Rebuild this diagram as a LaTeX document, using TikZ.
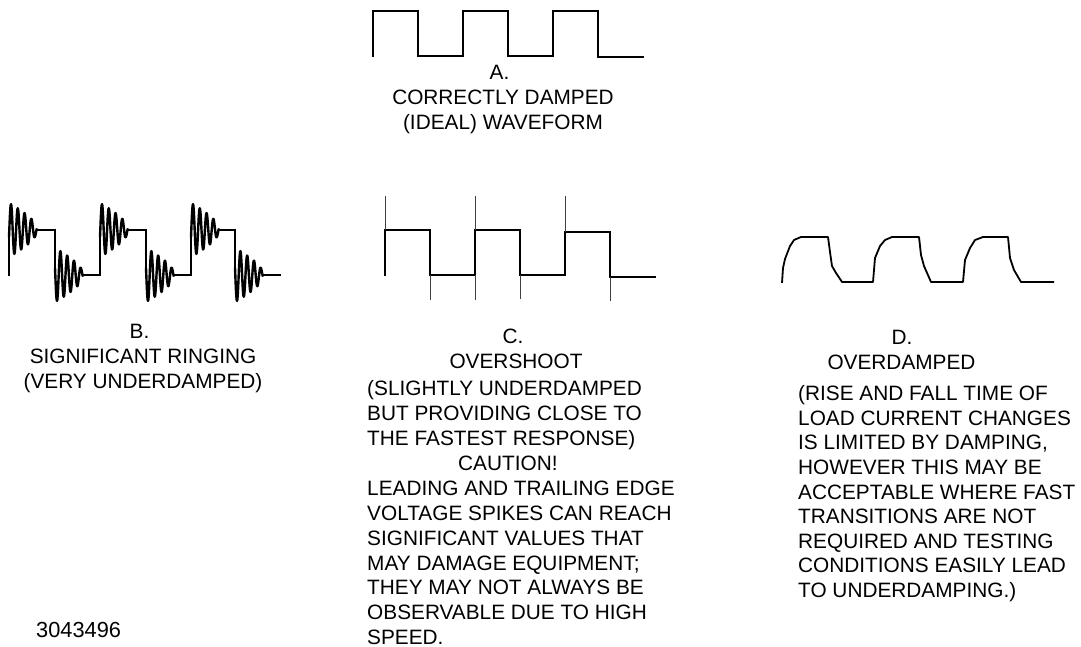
\documentclass[tikz,border=0pt]{standalone}
\usepackage{fontspec}
\setmainfont{Liberation Sans}
\newcommand{\ringf}[2]{#1-#2*27*pow(1-\x/29,0.6)*cos(360*(\x-2)/6.8)}
\tikzset{
 wave/.style={line width=2pt,line join=miter,black},
 ringwave/.style={line width=2.4pt,line join=round,black},
 damped/.style={line width=1.8pt,line join=round,black},
 ringplot/.style={domain=0:28,samples=110},
 spike/.style={line width=0.9pt,black!75},
 lbl/.style={inner sep=0pt,font=\fontsize{20.8}{24.9}\selectfont,anchor=north west,align=left},
 lbld/.style={lbl,font=\fontsize{20.8}{24.6}\selectfont},
 clbl/.style={inner sep=0pt,font=\fontsize{20.8}{24.9}\selectfont,align=center,anchor=north}
}
\begin{document}
\begin{tikzpicture}[x=1pt,y=-1pt]
\useasboundingbox (0,0) rectangle (1081,646);
% A
\draw[wave] (373,57) -- (373,11) -- (418,11) -- (418,56) -- (463,56) -- (463,11) -- (508,11) -- (508,56) -- (553,56) -- (553,11) -- (598,11) -- (598,57) -- (644,57);
\node[clbl] (ta1) at (499.5,64.5) {A.};
\node[clbl] (ta2) at (503,89.4) {CORRECTLY DAMPED\\(IDEAL) WAVEFORM};
% B
\draw[wave] (9,276) -- (9,230) (37,230) -- (55,230) -- (55,275) (83,275) -- (100,275) -- (100,230) (128,230) -- (146,230) -- (146,275) (174,275) -- (191,275) -- (191,230) (219,230) -- (235,230) -- (235,275) (263,275) -- (281,275);
\foreach \rx/\rl/\rs in {9/230/1,55/275/-1,100/230/1,146/275/-1,191/230/1,235/275/-1}{
  \draw[ringwave] plot[ringplot] ({\rx+\x},{\ringf{\rl}{\rs}});
}
\node[clbl] (tb1) at (139.5,323.5) {B.};
\node[clbl] (tb2) at (143,348.4) {SIGNIFICANT RINGING\\(VERY UNDERDAMPED)};
% C
\draw[wave] (385,276) -- (385,230) -- (430,230) -- (430,275) -- (475,275) -- (475,230) -- (520,230) -- (520,275) -- (565,275) -- (565,232) -- (610,232) -- (610,277) -- (656,277);
\foreach \px/\pa/\pb in {385/196/230,475/196/230,565/196/232,430/275/300,475/275/300,520/275/299,610/277/301}{
  \draw[spike] (\px,\pa) -- (\px,\pb);
}
\node[clbl] (tc1) at (513,328.5) {C.};
\node[clbl] (tc1b) at (516,353.4) {OVERSHOOT};
\node[lbl] (tc2) at (367,380.5) {(SLIGHTLY UNDERDAMPED\\BUT PROVIDING CLOSE TO\\THE FASTEST RESPONSE)\\\hspace*{91pt}CAUTION!\\LEADING AND TRAILING EDGE\\VOLTAGE SPIKES CAN REACH\\SIGNIFICANT VALUES THAT\\MAY DAMAGE EQUIPMENT;\\THEY MAY NOT ALWAYS BE\\OBSERVABLE DUE TO HIGH\\SPEED.};
% D
\draw[damped] (782,283) -- (783,268) -- (785,259) -- (790,246) -- (794,240) -- (801,237) -- (828,237) -- (830,252) -- (832,266) -- (836,273) -- (842,282) -- (873,282) -- (875,258) -- (880,246) -- (885,240) -- (892,237) -- (919,237) -- (921,255) -- (924,266) -- (931,282) -- (963,282) -- (965,260) -- (970,248) -- (975,240) -- (983,237) -- (1008,237) -- (1010,258) -- (1014,270) -- (1021,282) -- (1054,282);
\node[clbl] (td1) at (902,329.5) {D.};
\node[clbl] (td2) at (901.5,354.5) {OVERDAMPED};
\node[lbld] (td3) at (798,385.5) {(RISE AND FALL TIME OF\\LOAD CURRENT CHANGES\\IS LIMITED BY DAMPING,\\HOWEVER THIS MAY BE\\ACCEPTABLE WHERE FAST\\TRANSITIONS ARE NOT\\REQUIRED AND TESTING\\CONDITIONS EASILY LEAD\\TO UNDERDAMPING.)};
\node[lbl,font=\fontsize{21.8}{25}\selectfont] (num) at (36,622) {3043496};
\end{tikzpicture}
\end{document}
